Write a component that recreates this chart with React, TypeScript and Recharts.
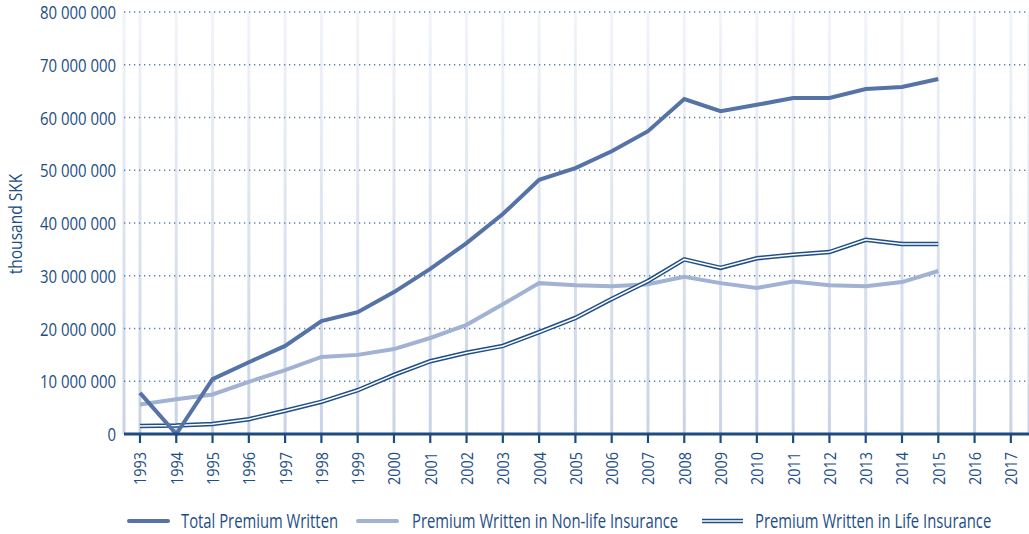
import React from 'react';
import {
  LineChart,
  Line,
  XAxis,
  YAxis,
  CartesianGrid,
} from 'recharts';

const colors = {
  total: '#5573a6',
  nonLife: '#a2b2d2',
  life: '#1f4f86',
  text: '#1d4e85',
  grid: '#5b7fac',
  axis: '#1b4b82',
  vgrid: '#c9d3e6',
};

const years = [
  1993, 1994, 1995, 1996, 1997, 1998, 1999, 2000, 2001, 2002, 2003, 2004, 2005,
  2006, 2007, 2008, 2009, 2010, 2011, 2012, 2013, 2014, 2015, 2016, 2017,
];

// millions of thousand SKK
const totalPremium = [
  7.8, 0.0, 10.4, 13.6, 16.7, 21.4, 23.1, 26.9, 31.3, 36.2, 41.7, 48.2, 50.4,
  53.6, 57.4, 63.5, 61.2, 62.4, 63.7, 63.7, 65.4, 65.8, 67.3,
];
const nonLifePremium = [
  5.6, 6.6, 7.5, 9.9, 12.1, 14.6, 15.0, 16.1, 18.2, 20.7, 24.6, 28.6, 28.2,
  28.0, 28.4, 29.8, 28.6, 27.7, 28.9, 28.2, 28.0, 28.8, 30.9,
];
const lifePremium = [
  1.5, 1.6, 1.9, 2.8, 4.4, 6.1, 8.3, 11.2, 13.8, 15.4, 16.7, 19.3, 22.0,
  25.6, 29.0, 33.1, 31.5, 33.3, 34.0, 34.5, 36.8, 36.0, 36.0,
];

const yTicks = [0, 10e6, 20e6, 30e6, 40e6, 50e6, 60e6, 70e6, 80e6];

const data = years.map((year, i) => ({
  year,
  total: totalPremium[i] != null ? totalPremium[i] * 1e6 : null,
  nonLife: nonLifePremium[i] != null ? nonLifePremium[i] * 1e6 : null,
  life: lifePremium[i] != null ? lifePremium[i] * 1e6 : null,
}));

// no condensed font available, so Open Sans gets squeezed horizontally
const fontFamily = '"Open Sans", sans-serif';

const formatY = (v: number) =>
  v === 0 ? '0' : Math.round(v).toString().replace(/\B(?=(\d{3})+(?!\d))/g, ' ');

const ValueTick = (props: any) => {
  const { x, y, payload } = props;
  return (
    <text
      transform={`translate(${x}, ${y}) scale(0.83, 1)`}
      textAnchor="end"
      dominantBaseline="central"
      fill={colors.text}
      fontSize={18}
      fontFamily={fontFamily}
    >
      {formatY(payload.value)}
    </text>
  );
};

const YearTick = (props: any) => {
  const { x, payload } = props;
  const y = 434;
  return (
    <g>
      <line x1={x} y1={y} x2={x} y2={y + 9} stroke={colors.axis} strokeWidth={2.2} />
      <text
        transform={`translate(${x}, ${y + 18}) rotate(-90) scale(0.85, 1)`}
        textAnchor="end"
        dominantBaseline="central"
        fill={colors.text}
        fontSize={17}
        fontFamily={fontFamily}
      >
        {payload.value}
      </text>
    </g>
  );
};

const legendItems = [
  { label: 'Total Premium Written', type: 'total', swatch: 127, text: 181 },
  { label: 'Premium Written in Non-life Insurance', type: 'nonLife', swatch: 356, text: 412 },
  { label: 'Premium Written in Life Insurance', type: 'life', swatch: 701, text: 755 },
];

function Swatch({ type }: { type: string }) {
  return (
    <svg width={44} height={10}>
      {type === 'life' ? (
        <>
          <line x1={1} y1={5} x2={42} y2={5} stroke={colors.life} strokeWidth={4.5} />
          <line x1={1} y1={5} x2={42} y2={5} stroke="#fff" strokeWidth={1.5} />
        </>
      ) : (
        <line
          x1={2}
          y1={5}
          x2={41}
          y2={5}
          stroke={type === 'total' ? colors.total : colors.nonLife}
          strokeWidth={4}
          strokeLinecap="round"
        />
      )}
    </svg>
  );
}

export default function App() {
  return (
    <div style={{ position: 'absolute', left: 0, top: 0, width: 1029, height: 534, background: '#fff' }}>
      <LineChart
        width={1029}
        height={534}
        data={data}
        margin={{ top: 12, right: 0, left: 0, bottom: 40 }}
      >
        <defs>
          <linearGradient id="vgrid" gradientUnits="userSpaceOnUse" x1="0" y1="12" x2="0" y2="434">
            <stop offset="0%" stopColor={colors.vgrid} stopOpacity={0.25} />
            <stop offset="100%" stopColor={colors.vgrid} stopOpacity={1} />
          </linearGradient>
        </defs>
        <CartesianGrid horizontal={false} stroke="url(#vgrid)" strokeWidth={3} />
        <CartesianGrid
          vertical={false}
          stroke={colors.grid}
          strokeWidth={1.3}
          strokeDasharray="1.3 3.7"
        />
        <XAxis
          dataKey="year"
          type="number"
          domain={[1992.56, 2017.5]}
          ticks={years}
          interval={0}
          height={60}
          axisLine={{ stroke: colors.axis, strokeWidth: 3 }}
          tickLine={false}
          tick={<YearTick />}
          tickSize={0}
          tickMargin={8}
        />
        <YAxis
          domain={[0, 80e6]}
          ticks={yTicks}
          width={124}
          axisLine={false}
          tickLine={false}
          tickSize={0}
          tickMargin={8}
          tick={<ValueTick />}
          label={() => (
            <text
              transform="translate(15, 224) rotate(-90) scale(0.84, 1)"
              textAnchor="middle"
              dominantBaseline="central"
              fill={colors.text}
              fontSize={18.5}
              fontFamily={fontFamily}
            >
              thousand SKK
            </text>
          )}
        />
        <Line
          dataKey="nonLife"
          stroke={colors.nonLife}
          strokeWidth={4}
          dot={false}
          isAnimationActive={false}
        />
        <Line
          dataKey="life"
          stroke={colors.life}
          strokeWidth={4.5}
          dot={false}
          isAnimationActive={false}
        />
        <Line
          dataKey="life"
          stroke="#ffffff"
          strokeWidth={1.5}
          dot={false}
          isAnimationActive={false}
        />
        <Line
          dataKey="total"
          stroke={colors.total}
          strokeWidth={4}
          dot={false}
          isAnimationActive={false}
        />
      </LineChart>
      {legendItems.map((item) => (
        <React.Fragment key={item.type}>
          <div style={{ position: 'absolute', left: item.swatch, top: 516, height: 10, lineHeight: 0 }}>
            <Swatch type={item.type} />
          </div>
          <div
            style={{
              position: 'absolute',
              left: item.text,
              top: 507,
              fontFamily,
              fontSize: 19.5,
              lineHeight: '28px',
              color: colors.text,
              whiteSpace: 'nowrap',
              transform: 'scaleX(0.76)',
              transformOrigin: 'left center',
            }}
          >
            {item.label}
          </div>
        </React.Fragment>
      ))}
    </div>
  );
}
